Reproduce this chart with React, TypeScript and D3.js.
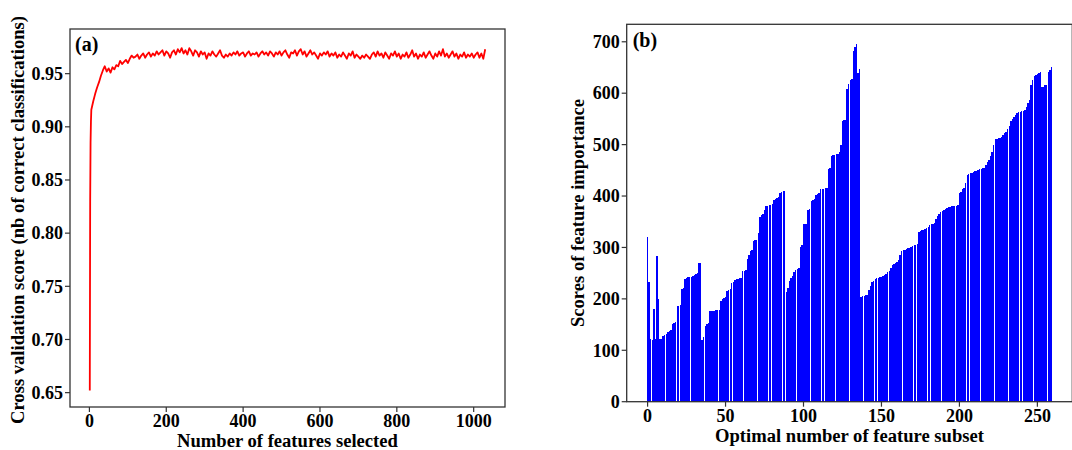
import * as d3 from "d3";

// (a) cross validation score vs number of features selected
const cvHeadFeatures = [1, 2, 3, 4];
const cvHeadScores = [0.652, 0.83, 0.885, 0.905];
const cvStep = 5; // remaining samples are every 5 features, from 5 to 1030
const cvScores = [
  0.916, 0.924, 0.931, 0.937, 0.942, 0.948, 0.953, 0.957, 0.952, 0.955,
  0.951, 0.956, 0.954, 0.958, 0.957, 0.962, 0.959, 0.961, 0.963, 0.960,
  0.964, 0.967, 0.965, 0.966, 0.968, 0.964, 0.967, 0.969, 0.965, 0.968,
  0.970, 0.966, 0.969, 0.967, 0.971, 0.968, 0.970, 0.972, 0.967, 0.971,
  0.969, 0.965, 0.970, 0.972, 0.968, 0.973, 0.970, 0.974, 0.969, 0.972,
  0.968, 0.974, 0.971, 0.967, 0.972, 0.970, 0.966, 0.971, 0.968, 0.970,
  0.964, 0.969, 0.967, 0.971, 0.968, 0.966, 0.969, 0.972, 0.967, 0.965,
  0.968, 0.966, 0.969, 0.967, 0.970, 0.968, 0.971, 0.967, 0.969, 0.970,
  0.966, 0.969, 0.971, 0.967, 0.969, 0.968, 0.970, 0.966, 0.969, 0.971,
  0.968, 0.970, 0.967, 0.971, 0.969, 0.966, 0.970, 0.968, 0.971, 0.967,
  0.970, 0.972, 0.968, 0.965, 0.970, 0.969, 0.972, 0.967, 0.971, 0.973,
  0.968, 0.971, 0.966, 0.969, 0.972, 0.968, 0.970, 0.967, 0.964, 0.969,
  0.967, 0.970, 0.968, 0.971, 0.966, 0.969, 0.967, 0.970, 0.965, 0.968,
  0.966, 0.970, 0.967, 0.964, 0.969, 0.967, 0.971, 0.965, 0.968, 0.966,
  0.964, 0.967, 0.965, 0.968, 0.966, 0.964, 0.968, 0.970, 0.966, 0.971,
  0.967, 0.969, 0.965, 0.970, 0.967, 0.964, 0.969, 0.967, 0.971, 0.966,
  0.969, 0.964, 0.968, 0.966, 0.970, 0.965, 0.968, 0.972, 0.966, 0.969,
  0.964, 0.968, 0.966, 0.970, 0.965, 0.968, 0.971, 0.967, 0.964, 0.969,
  0.966, 0.971, 0.967, 0.973, 0.966, 0.969, 0.965, 0.968, 0.971, 0.966,
  0.969, 0.964, 0.968, 0.966, 0.970, 0.965, 0.968, 0.966, 0.969, 0.965,
  0.968, 0.970, 0.965, 0.969, 0.964, 0.973,
];
const cvXTicks = [0, 200, 400, 600, 800, 1000];
const cvYTicks = [0.65, 0.7, 0.75, 0.8, 0.85, 0.9, 0.95];

// (b) feature importance scores, one bar per feature in the optimal subset
const importance = [
  320, 232, 121, 120, 180, 121, 284, 200, 122, 122,
  127, 130, 132, 135, 138, 140, 152, 154, 155, 186,
  187, 188, 220, 222, 238, 241, 242, 243, 243, 244,
  246, 248, 250, 270, 270, 120, 126, 148, 152, 153,
  176, 177, 177, 177, 178, 178, 178, 195, 200, 202,
  204, 215, 217, 220, 230, 233, 236, 238, 239, 240,
  240, 254, 255, 256, 278, 285, 294, 296, 312, 314,
  315, 328, 360, 364, 366, 372, 380, 381, 382, 383,
  384, 393, 395, 397, 398, 405, 408, 409, 410, 213,
  222, 235, 240, 244, 252, 256, 258, 260, 300, 304,
  345, 345, 346, 372, 375, 390, 393, 395, 402, 404,
  405, 413, 414, 414, 415, 416, 452, 455, 478, 479,
  480, 481, 482, 485, 500, 545, 547, 548, 608, 618,
  625, 627, 683, 690, 695, 640, 648, 203, 205, 206,
  207, 208, 218, 225, 232, 235, 238, 240, 241, 242,
  242, 244, 246, 248, 252, 255, 260, 265, 268, 270,
  272, 276, 285, 293, 295, 296, 297, 298, 298, 301,
  303, 304, 305, 307, 330, 332, 333, 334, 335, 338,
  340, 343, 345, 346, 348, 355, 362, 365, 368, 371,
  373, 375, 376, 378, 379, 380, 380, 381, 381, 382,
  405, 408, 413, 415, 425, 440, 443, 444, 445, 446,
  448, 449, 450, 452, 453, 454, 455, 460, 466, 470,
  478, 485, 500, 510, 511, 512, 513, 515, 518, 522,
  525, 530, 536, 545, 550, 553, 558, 561, 563, 564,
  565, 566, 568, 573, 580, 586, 615, 625, 633, 635,
  638, 640, 641, 612, 613, 615, 616, 642, 646, 650,
];
const impXTicks = [0, 50, 100, 150, 200, 250];
const impYTicks = [0, 100, 200, 300, 400, 500, 600, 700];

const W = 1072;
const H = 450;
const FONT = "'Liberation Serif', 'Times New Roman', serif";
const SPINE = "#333";

export default function App() {
  // panel (a)
  const a = { left: 70, right: 505, top: 29, bottom: 407 };
  const ax = d3.scaleLinear().domain([-50.5, 1081.5]).range([a.left, a.right]);
  const ay = d3.scaleLinear().domain([0.6365, 0.992]).range([a.bottom, a.top]);
  const cvPoints: [number, number][] = [
    ...cvHeadFeatures.map((f, i) => [f, cvHeadScores[i]] as [number, number]),
    ...cvScores.map((s, i) => [(i + 1) * cvStep, s] as [number, number]),
  ];
  const line = d3
    .line<[number, number]>()
    .x((d) => ax(d[0]))
    .y((d) => ay(d[1]));

  // panel (b)
  const b = { left: 626.7, right: 1072.3, top: 24.3, bottom: 401.7 };
  const bx = d3.scaleLinear().domain([-13.4, 272.4]).range([b.left, b.right]);
  const by = d3.scaleLinear().domain([0, 734]).range([b.bottom, b.top]);
  const barW = bx(0.9) - bx(0);

  const tickFont = { fontFamily: FONT, fontWeight: 700, fontSize: 18 } as const;
  const labelFont = { fontFamily: FONT, fontWeight: 700, fontSize: 18.6 } as const;

  return (
    <svg
      width={W}
      height={H}
      style={{ position: "absolute", left: 0, top: 0, background: "#fff" }}
    >
      {/* ---------- (a) ---------- */}
      <path
        d={line(cvPoints) ?? ""}
        fill="none"
        stroke="#ff0000"
        strokeWidth={1.8}
        strokeLinejoin="round"
      />
      <rect
        x={a.left}
        y={a.top}
        width={a.right - a.left}
        height={a.bottom - a.top}
        fill="none"
        stroke={SPINE}
        strokeWidth={1.3}
      />
      {cvYTicks.map((t) => (
        <g key={t}>
          <line x1={a.left - 5} x2={a.left} y1={ay(t)} y2={ay(t)} stroke={SPINE} strokeWidth={1.2} />
          <text x={a.left - 7} y={ay(t)} dy="0.35em" textAnchor="end" {...tickFont}>
            {t.toFixed(2)}
          </text>
        </g>
      ))}
      {cvXTicks.map((t) => (
        <g key={t}>
          <line x1={ax(t)} x2={ax(t)} y1={a.bottom} y2={a.bottom + 5} stroke={SPINE} strokeWidth={1.2} />
          <text x={ax(t)} y={a.bottom + 20} textAnchor="middle" {...tickFont}>
            {t}
          </text>
        </g>
      ))}
      <text x={a.left + 5} y={51} {...tickFont} fontSize={20}>
        (a)
      </text>
      <text x={(a.left + a.right) / 2} y={447} textAnchor="middle" {...labelFont}>
        Number of features selected
      </text>
      <text
        transform={`translate(24,${(a.top + a.bottom) / 2 + 2}) rotate(-90)`}
        textAnchor="middle"
        {...labelFont}
      >
        Cross validation score (nb of correct classifications)
      </text>

      {/* ---------- (b) ---------- */}
      <g shapeRendering="crispEdges">
        {importance.map((v, i) => (
          <rect
            key={i}
            x={bx(i - 0.45)}
            y={by(v)}
            width={barW}
            height={by(0) - by(v)}
            fill="#0000ff"
          />
        ))}
      </g>
      <rect
        x={b.left}
        y={b.top}
        width={b.right - b.left}
        height={b.bottom - b.top}
        fill="none"
        stroke={SPINE}
        strokeWidth={1.3}
      />
      {impYTicks.map((t) => (
        <g key={t}>
          <line x1={b.left - 5} x2={b.left} y1={by(t)} y2={by(t)} stroke={SPINE} strokeWidth={1.2} />
          <text x={b.left - 7} y={by(t)} dy="0.35em" textAnchor="end" {...tickFont}>
            {t}
          </text>
        </g>
      ))}
      {impXTicks.map((t) => (
        <g key={t}>
          <line x1={bx(t)} x2={bx(t)} y1={b.bottom} y2={b.bottom + 5} stroke={SPINE} strokeWidth={1.2} />
          <text x={bx(t)} y={b.bottom + 20} textAnchor="middle" {...tickFont}>
            {t}
          </text>
        </g>
      ))}
      <text x={b.left + 6} y={47} {...tickFont} fontSize={20}>
        (b)
      </text>
      <text x={(b.left + b.right) / 2} y={442} textAnchor="middle" {...labelFont}>
        Optimal number of feature subset
      </text>
      <text
        transform={`translate(584,${(b.top + b.bottom) / 2}) rotate(-90)`}
        textAnchor="middle"
        {...labelFont}
      >
        Scores of feature importance
      </text>
    </svg>
  );
}
